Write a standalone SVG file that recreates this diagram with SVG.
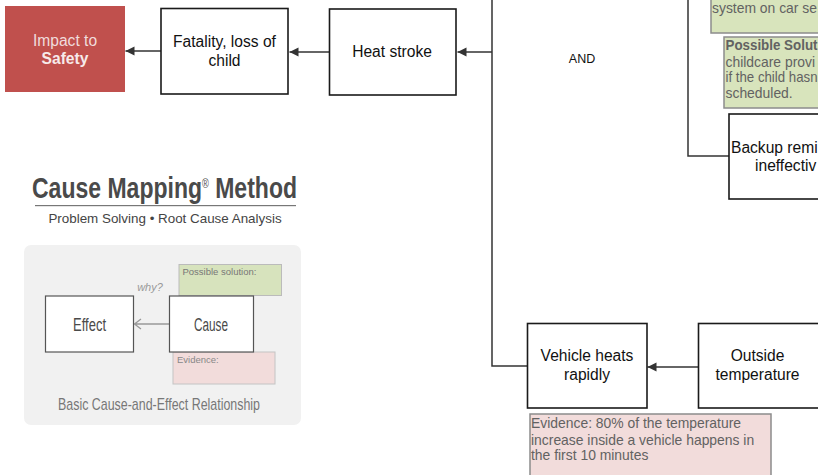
<svg xmlns="http://www.w3.org/2000/svg" width="818" height="475" viewBox="0 0 818 475">
<style>
text{font-family:"Liberation Sans",Arial,sans-serif;}
.box{fill:#fff;stroke:#1a1a1a;stroke-width:1.6;}
.lbl{font-size:15.600px;fill:#111;text-anchor:middle;}
.lbs{font-size:15.600px;fill:#111;}
.conn{fill:none;stroke:#333;stroke-width:1.5;}
.arrow{marker-end:url(#arr);}
.note{font-size:13.900px;fill:#626262;}
.green{fill:#d8e4bc;stroke:#8c8c8c;stroke-width:1.5;}
.pink{fill:#f2dcdb;stroke:#8c8c8c;stroke-width:1.5;}
.cond{fill:#4a4a4a;}
</style>
<defs>
<marker id="arr" markerUnits="userSpaceOnUse" markerWidth="10" markerHeight="10" refX="9" refY="5" orient="auto"><path d="M0 0.500L9 5L0 9.500Z" fill="#333"/></marker>
</defs>
<rect width="818" height="475" fill="#fff"/>
<g id="connectors">
<path class="conn arrow" d="M161 51H125.500"/>
<path class="conn arrow" d="M329 52H289.500"/>
<path class="conn arrow" d="M492 52H457.500"/>
<path class="conn" d="M492 0V366H527"/>
<path class="conn" d="M688 0V156H729"/>
<path class="conn arrow" d="M698 367H647.500"/>
</g>
<g id="impact"><rect x="5" y="6" width="120" height="86" fill="#c0504d"/>
<text x="65" y="46" font-size="15.600" fill="#f0dcdc" text-anchor="middle">Impact to</text>
<text x="65" y="64" font-size="15.600" font-weight="bold" fill="#f7eaea" text-anchor="middle">Safety</text></g>
<g id="fatality"><rect class="box" x="161" y="8.500" width="127" height="85.500"/>
<text class="lbl" x="224.500" y="47">Fatality, loss of</text><text class="lbl" x="224.500" y="66">child</text></g>
<g id="heatstroke"><rect class="box" x="329.500" y="9" width="126.500" height="86"/>
<text class="lbl" x="392" y="57">Heat stroke</text></g>
<g id="and"><text x="582" y="63" font-size="12.500" fill="#111" text-anchor="middle">AND</text></g>
<g id="solution1"><rect class="green" x="711" y="-20" width="120" height="53"/>
<text class="note" x="712" y="13">system on car se</text></g>
<g id="solution2"><rect class="green" x="724" y="37" width="110" height="71"/>
<text class="note" x="725.500" y="50" font-weight="bold" textLength="92" lengthAdjust="spacingAndGlyphs">Possible Solut</text>
<text class="note" x="725.500" y="67">childcare provi</text>
<text class="note" x="725.500" y="82" textLength="92" lengthAdjust="spacingAndGlyphs">if the child hasn</text>
<text class="note" x="725.500" y="98">scheduled.</text></g>
<g id="backup"><rect class="box" x="729" y="114" width="120" height="85"/>
<text class="lbs" x="731" y="153">Backup remi</text><text class="lbs" x="755" y="171">ineffectiv</text></g>
<g id="vehicle"><rect class="box" x="527.500" y="323.500" width="119.500" height="84.500"/>
<text class="lbl" x="587" y="361">Vehicle heats</text><text class="lbl" x="587" y="380">rapidly</text></g>
<g id="outside"><rect class="box" x="698.500" y="323.500" width="122" height="84.500"/>
<text class="lbl" x="757.500" y="361">Outside</text><text class="lbl" x="757.500" y="380">temperature</text></g>
<g id="evidence"><rect class="pink" x="530" y="414" width="241" height="70"/>
<text class="note" x="531" y="428">Evidence: 80% of the temperature</text>
<text class="note" x="531" y="445">increase inside a vehicle happens in</text>
<text class="note" x="531" y="460">the first 10 minutes</text></g>
<g id="legend">
<text class="cond" x="32" y="198" font-size="30" font-weight="bold" textLength="265" lengthAdjust="spacingAndGlyphs">Cause Mapping<tspan font-size="12" font-weight="normal" dy="-10">®</tspan><tspan dy="10"> Method</tspan></text>
<rect x="35" y="205" width="261" height="1.200" fill="#777"/>
<text x="165" y="223" font-size="13.400" fill="#444" text-anchor="middle">Problem Solving • Root Cause Analysis</text>
<rect x="24" y="245" width="277" height="180" rx="7" fill="#f1f1f1"/>
<rect x="179" y="264.500" width="102.500" height="31" fill="#d7e3bd" stroke="#bbb"/>
<text x="182.500" y="275" font-size="9.500" fill="#777">Possible solution:</text>
<rect x="173" y="352" width="102" height="32" fill="#f2dcdb" stroke="#c4c4c4"/>
<text x="177" y="363" font-size="9.500" fill="#888">Evidence:</text>
<text x="150" y="291" font-family="Liberation Serif,serif" font-style="italic" font-size="11" fill="#999" text-anchor="middle">why?</text>
<path d="M170 324H135M141 319L134.500 324L141 329" fill="none" stroke="#999" stroke-width="1.300"/>
<rect x="45.500" y="296" width="88" height="56" fill="#fff" stroke="#555" stroke-width="1.200"/>
<rect x="169.500" y="296" width="84" height="56" fill="#fff" stroke="#555" stroke-width="1.200"/>
<text class="cond" x="73" y="331" font-size="18" textLength="33" lengthAdjust="spacingAndGlyphs">Effect</text>
<text class="cond" x="194" y="331" font-size="18" textLength="34" lengthAdjust="spacingAndGlyphs">Cause</text>
<text x="58" y="410" font-size="17" fill="#777" textLength="202" lengthAdjust="spacingAndGlyphs">Basic Cause-and-Effect Relationship</text>
</g>
</svg>
